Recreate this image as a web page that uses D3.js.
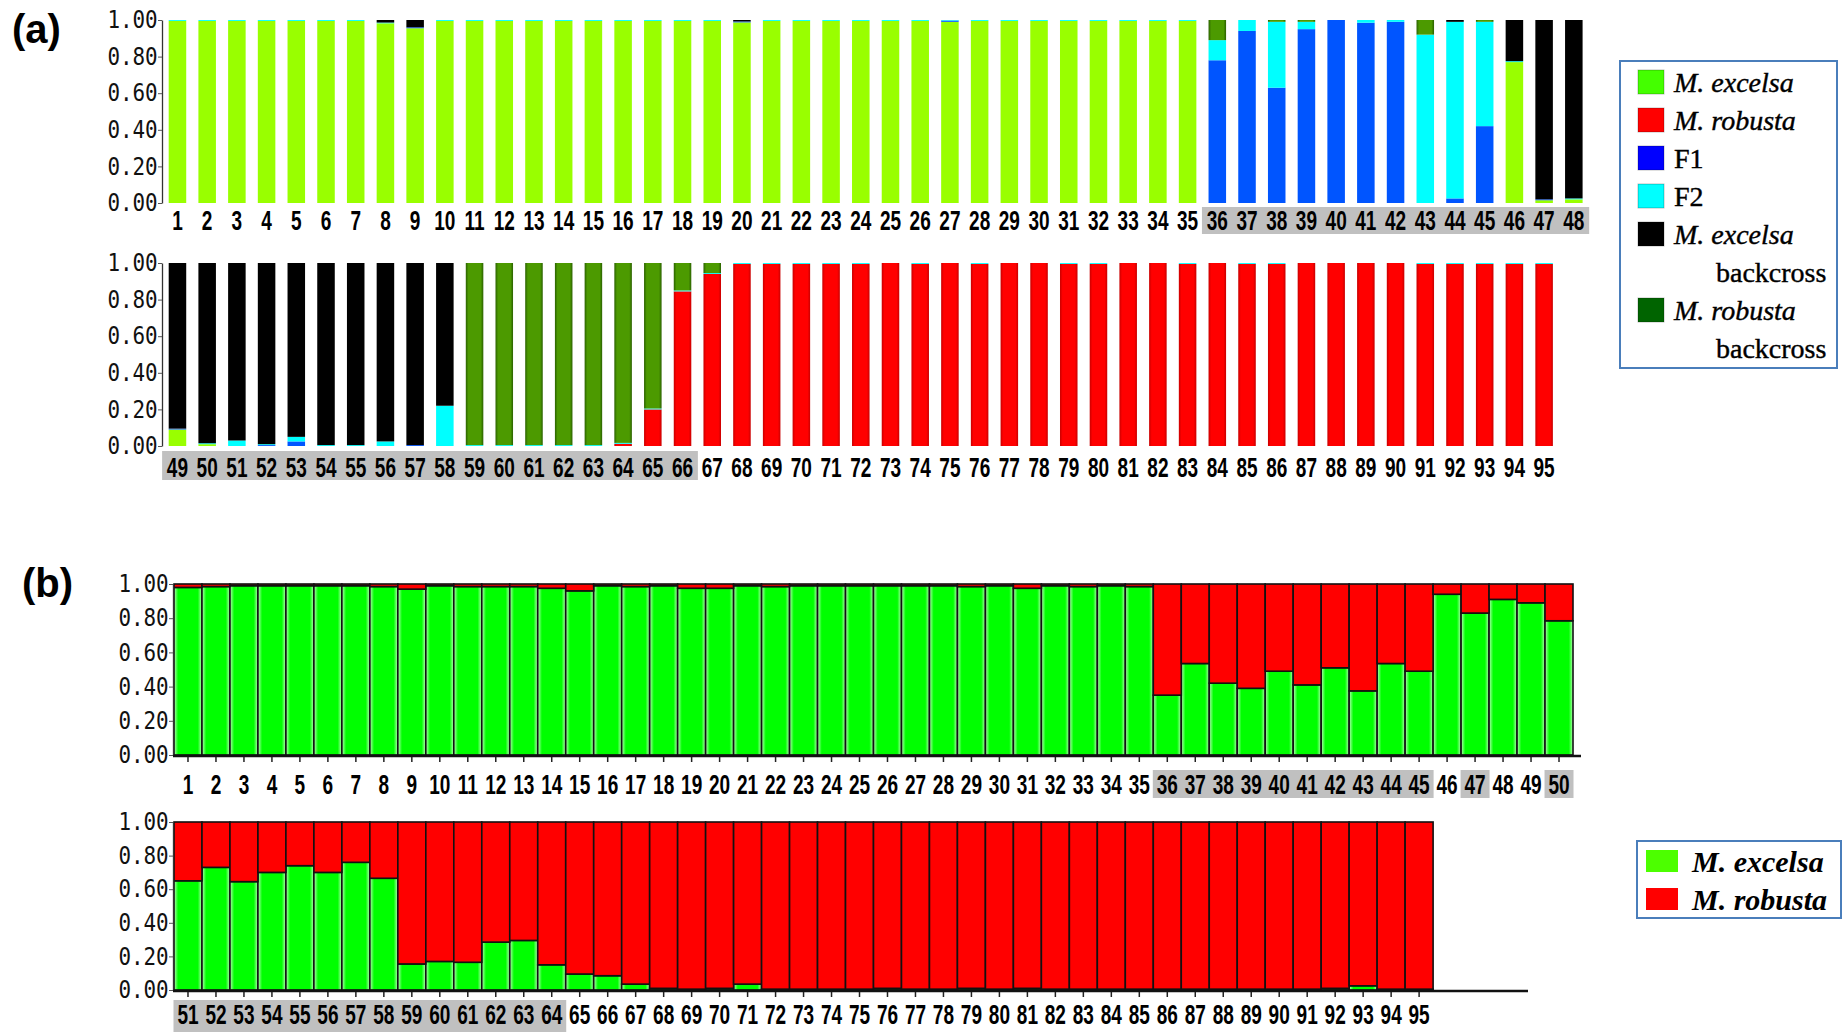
<!DOCTYPE html>
<html>
<head>
<meta charset="utf-8">
<script src="https://cdn.jsdelivr.net/npm/d3@7"></script>
<style>
  body { margin: 0; background: #fff; }
</style>
</head>
<body>
<script>
// individuals 1..95
const individuals = d3.range(1, 96);

// ---- panel (a): 6 classes, proportions per individual ----
const aExcelsa = [
  .995, .995, .995, .995, .995, .995, .995, .982, .955, .995,
  .995, .995, .995, .995, .995, .995, .995, .995, .995, .987,
  .995, .995, .995, .995, .995, .995, .99, .995, .995, .995,
  .995, .995, .995, .995, .995, 0, 0, 0, 0, 0,
  0, 0, 0, 0, 0, .77, .015, .02, .09, .01,
  0, 0, 0, 0, 0, 0, 0, 0, 0, 0,
  0, 0, 0, 0, 0, 0, 0, 0, 0, 0,
  0, 0, 0, 0, 0, 0, 0, 0, 0, 0,
  0, 0, 0, 0, 0, 0, 0, 0, 0, 0,
  0, 0, 0, 0, 0
];
const aRobusta = [
  0, 0, 0, 0, 0, 0, 0, 0, 0, 0,
  0, 0, 0, 0, 0, 0, 0, 0, 0, 0,
  0, 0, 0, 0, 0, 0, 0, 0, 0, 0,
  0, 0, 0, 0, 0, 0, 0, 0, 0, 0,
  0, 0, 0, 0, 0, 0, 0, 0, 0, 0,
  0, 0, 0, 0, 0, 0, 0, 0, 0, 0,
  0, 0, 0, .012, .2, .845, .94, .995, .995, .995,
  .995, .995, 1, .995, 1, .995, 1, 1, .995, .995,
  1, 1, .995, 1, .995, .995, 1, 1, 1, 1,
  .995, .995, .995, .995, .995
];
const aF1 = [
  0, 0, 0, 0, 0, 0, 0, 0, .005, 0,
  0, 0, 0, 0, 0, 0, 0, 0, 0, .005,
  0, 0, 0, 0, 0, 0, .007, 0, 0, 0,
  0, 0, 0, 0, 0, .78, .94, .63, .95, 1,
  .985, .99, 0, .025, .42, 0, .005, 0, .005, 0,
  0, .005, .025, 0, 0, 0, .005, 0, 0, 0,
  0, 0, 0, 0, 0, 0, 0, 0, 0, 0,
  0, 0, 0, 0, 0, 0, 0, 0, 0, 0,
  0, 0, 0, 0, 0, 0, 0, 0, 0, 0,
  0, 0, 0, 0, 0
];
const aF2 = [
  .005, .005, .005, .005, .005, .005, .005, .004, 0, .005,
  .005, .005, .005, .005, .005, .005, .005, .005, .005, 0,
  .005, .005, .005, .005, .005, .005, .003, .005, .005, .005,
  .005, .005, .005, .005, .005, .11, .06, .36, .04, 0,
  .015, .01, .92, .965, .57, .005, 0, .005, 0, .005,
  .03, .005, .025, .005, .005, .025, 0, .22, .005, .005,
  .005, .005, .005, .005, .005, .005, .005, .005, .005, .005,
  .005, .005, 0, .005, 0, .005, 0, 0, .005, .005,
  0, 0, .005, 0, .005, .005, 0, 0, 0, 0,
  .005, .005, .005, .005, .005
];
const aExBackcross = [
  0, 0, 0, 0, 0, 0, 0, .014, .04, 0,
  0, 0, 0, 0, 0, 0, 0, 0, 0, .008,
  0, 0, 0, 0, 0, 0, 0, 0, 0, 0,
  0, 0, 0, 0, 0, 0, 0, 0, 0, 0,
  0, 0, 0, .01, 0, .225, .98, .975, .905, .985,
  .97, .99, .95, .995, .995, .975, .995, .78, 0, 0,
  0, 0, 0, 0, 0, 0, 0, 0, 0, 0,
  0, 0, 0, 0, 0, 0, 0, 0, 0, 0,
  0, 0, 0, 0, 0, 0, 0, 0, 0, 0,
  0, 0, 0, 0, 0
];
const aRobBackcross = [
  0, 0, 0, 0, 0, 0, 0, 0, 0, 0,
  0, 0, 0, 0, 0, 0, 0, 0, 0, 0,
  0, 0, 0, 0, 0, 0, 0, 0, 0, 0,
  0, 0, 0, 0, 0, .11, 0, .01, .01, 0,
  0, 0, .08, 0, .01, 0, 0, 0, 0, 0,
  0, 0, 0, 0, 0, 0, 0, 0, .995, .995,
  .995, .995, .995, .983, .795, .15, .055, 0, 0, 0,
  0, 0, 0, 0, 0, 0, 0, 0, 0, 0,
  0, 0, 0, 0, 0, 0, 0, 0, 0, 0,
  0, 0, 0, 0, 0
];

// ---- panel (b): 2 clusters ----
const bExcelsa = [
  .98, .985, .99, .99, .99, .99, .99, .985, .97, .99,
  .985, .985, .985, .975, .96, .99, .985, .99, .975, .975,
  .99, .985, .99, .99, .99, .99, .99, .99, .985, .99,
  .975, .99, .985, .99, .985, .35, .535, .42, .39, .49,
  .41, .51, .375, .535, .49, .94, .83, .91, .89, .785,
  .65, .73, .645, .70, .74, .70, .76, .665, .155, .17,
  .165, .285, .295, .15, .095, .085, .035, .01, .005, .01,
  .035, .005, .005, .005, .005, .01, .005, .005, .01, .005,
  .01, .005, .005, .005, .005, .005, .005, .005, .005, .005,
  .005, .01, .025, .005, .005
];
const bRobusta = [
  .02, .015, .01, .01, .01, .01, .01, .015, .03, .01,
  .015, .015, .015, .025, .04, .01, .015, .01, .025, .025,
  .01, .015, .01, .01, .01, .01, .01, .01, .015, .01,
  .025, .01, .015, .01, .015, .65, .465, .58, .61, .51,
  .59, .49, .625, .465, .51, .06, .17, .09, .11, .215,
  .35, .27, .355, .30, .26, .30, .24, .335, .845, .83,
  .835, .715, .705, .85, .905, .915, .965, .99, .995, .99,
  .965, .995, .995, .995, .995, .99, .995, .995, .99, .995,
  .99, .995, .995, .995, .995, .995, .995, .995, .995, .995,
  .995, .99, .975, .995, .995
];

// grey-shaded labels
const aShaded = [36, 37, 38, 39, 40, 41, 42, 43, 44, 45, 46, 47, 48,
  49, 50, 51, 52, 53, 54, 55, 56, 57, 58, 59, 60, 61, 62, 63, 64, 65, 66];
const bShaded = [36, 37, 38, 39, 40, 41, 42, 43, 44, 45, 47, 50,
  51, 52, 53, 54, 55, 56, 57, 58, 59, 60, 61, 62, 63, 64];

const yTicks = [0, 0.2, 0.4, 0.6, 0.8, 1];

const aLegend = [
  { key: "exc", name: ["M. excelsa"], swatch: "#44ff00" },
  { key: "rob", name: ["M. robusta"], swatch: "#ff0000" },
  { key: "f1", name: ["F1"], swatch: "#0000ff" },
  { key: "f2", name: ["F2"], swatch: "#00ffff" },
  { key: "exBC", name: ["M. excelsa", "backcross"], swatch: "#000000" },
  { key: "robBC", name: ["M. robusta", "backcross"], swatch: "#006400" }
];
const bLegend = [
  { key: "exc", name: "M. excelsa", swatch: "#4cff00" },
  { key: "rob", name: "M. robusta", swatch: "#ff0000" }
];

// ------------------------------------------------------------------
const width = 1843, height = 1032;
const svg = d3.select("body").append("svg")
  .attr("width", width).attr("height", height)
  .attr("font-family", "Liberation Sans, Arial, sans-serif");

// gradients give the bars their shaded edges
const defs = svg.append("defs");
function edgeGradient(id, edge, mid) {
  const lg = defs.append("linearGradient").attr("id", id)
    .attr("x1", 0).attr("x2", 1).attr("y1", 0).attr("y2", 0);
  [[0, edge], [0.15, mid], [0.85, mid], [1, edge]].forEach(([o, c]) =>
    lg.append("stop").attr("offset", o).attr("stop-color", c));
}
edgeGradient("gRed", "#c80000", "#ff0000");
edgeGradient("gOlive", "#2a6000", "#4c9a00");
edgeGradient("gGreen", "#b8ffb8", "#00ff00");

const aColor = {
  exc: "#99ff00", rob: "url(#gRed)", f1: "#0055ff",
  f2: "#00ffff", exBC: "#000000", robBC: "url(#gOlive)"
};
const bColor = { exc: "url(#gGreen)", rob: "#ff0000" };

const aRows = individuals.map((id, i) => ({
  id, exc: aExcelsa[i], rob: aRobusta[i], f1: aF1[i],
  f2: aF2[i], exBC: aExBackcross[i], robBC: aRobBackcross[i]
}));
const aSeries = d3.stack().keys(["exc", "rob", "f1", "f2", "exBC", "robBC"])(aRows);

const bRows = individuals.map((id, i) => ({ id, exc: bExcelsa[i], rob: bRobusta[i] }));
const bSeries = d3.stack().keys(["exc", "rob"])(bRows);

const panels = [
  { ids: individuals.slice(0, 48), series: aSeries, color: aColor, shaded: aShaded,
    x0: 162.6, step: 29.71, pad: 0.41, top: 20, bottom: 203, axisX: 162, labelY: 230,
    shadeY: 207, shadeH: 27, outline: false },
  { ids: individuals.slice(48), series: aSeries, color: aColor, shaded: aShaded,
    x0: 162.6, step: 29.71, pad: 0.41, top: 263, bottom: 446, axisX: 162, labelY: 477,
    shadeY: 451, shadeH: 29, outline: false },
  { ids: individuals.slice(0, 50), series: bSeries, color: bColor, shaded: bShaded,
    x0: 174, step: 27.98, pad: 0, top: 584, bottom: 755, axisX: 173, labelY: 794,
    shadeY: 770, shadeH: 28, outline: true, baseEnd: 1581 },
  { ids: individuals.slice(50), series: bSeries, color: bColor, shaded: bShaded,
    x0: 174, step: 27.98, pad: 0, top: 822, bottom: 990, axisX: 173, labelY: 1024,
    shadeY: 1000, shadeH: 32, outline: true, baseEnd: 1528 }
];

panels.forEach(p => {
  const g = svg.append("g");
  const x = d3.scaleBand().domain(p.ids)
    .range([p.x0, p.x0 + p.step * p.ids.length])
    .paddingInner(p.pad).paddingOuter(p.pad / 2);
  const y = d3.scaleLinear().domain([0, 1]).range([p.bottom, p.top]);
  const gap = (x.step() - x.bandwidth()) / 2;

  // grey boxes behind some labels
  g.append("g").selectAll("rect")
    .data(p.ids.filter(d => p.shaded.includes(d)))
    .join("rect")
    .attr("x", d => x(d) - gap - 0.5)
    .attr("width", x.step() + 1)
    .attr("y", p.shadeY).attr("height", p.shadeH)
    .attr("fill", "#c0c0c0");

  // stacked bars
  p.series.forEach(s => {
    g.append("g")
      .attr("fill", p.color[s.key])
      .attr("stroke", p.outline ? "#111" : "none")
      .attr("stroke-width", 1.6)
      .selectAll("rect")
      .data(s.filter(d => p.ids.includes(d.data.id) && d[1] - d[0] > 0))
      .join("rect")
      .attr("x", d => x(d.data.id))
      .attr("width", x.bandwidth())
      .attr("y", d => y(d[1]))
      .attr("height", d => y(d[0]) - y(d[1]));
  });

  // y axis
  const ya = g.append("g")
    .attr("transform", `translate(${p.axisX},0)`)
    .call(d3.axisLeft(y).tickValues(yTicks).tickFormat(d3.format(".2f"))
      .tickSize(4).tickSizeOuter(0).tickPadding(1));
  ya.select(".domain").attr("stroke", "#333").attr("stroke-width", 1.3);
  ya.selectAll(".tick line").attr("stroke", "#555");
  ya.selectAll(".tick text")
    .attr("font-family", "DejaVu Sans Mono, monospace")
    .attr("font-size", 24)
    .attr("fill", "#111")
    .attr("transform", "scale(0.87,1)");

  // x baseline + ticks for the (b) plots
  if (p.outline) {
    g.append("line")
      .attr("x1", p.x0 - 1).attr("x2", p.baseEnd)
      .attr("y1", p.bottom + 1).attr("y2", p.bottom + 1)
      .attr("stroke", "#111").attr("stroke-width", 2.5);
    g.append("g").selectAll("line").data(p.ids).join("line")
      .attr("x1", d => x(d) + x.bandwidth() / 2).attr("x2", d => x(d) + x.bandwidth() / 2)
      .attr("y1", p.bottom + 2).attr("y2", p.bottom + 7)
      .attr("stroke", "#222").attr("stroke-width", 1.5);
  }

  // individual labels
  g.append("g").selectAll("text").data(p.ids).join("text")
    .attr("transform", d => `translate(${x(d) + x.bandwidth() / 2},${p.labelY}) scale(0.68,1)`)
    .attr("text-anchor", "middle")
    .attr("font-weight", "bold")
    .attr("font-size", 28)
    .attr("fill", "#000")
    .text(d => d);
});

// panel letters
svg.append("text").attr("x", 12).attr("y", 43)
  .attr("font-size", 40).attr("font-weight", "bold").text("(a)");
svg.append("text").attr("x", 22).attr("y", 597)
  .attr("font-size", 40).attr("font-weight", "bold").text("(b)");

// legend (a)
const legA = svg.append("g").attr("font-family", "Liberation Serif, Times New Roman, serif");
legA.append("rect").attr("x", 1620).attr("y", 61).attr("width", 217).attr("height", 307)
  .attr("fill", "none").attr("stroke", "#4a7ebb").attr("stroke-width", 2);
let rowY = 82;
aLegend.forEach(item => {
  legA.append("rect").attr("x", 1638).attr("y", rowY - 12).attr("width", 26).attr("height", 24)
    .attr("fill", item.swatch).attr("stroke", "rgba(0,0,0,0.25)");
  item.name.forEach((line, i) => {
    legA.append("text")
      .attr("x", i === 0 ? 1674 : 1716)
      .attr("y", rowY + 10 + i * 38)
      .attr("font-size", 28)
      .attr("font-style", line.startsWith("M.") ? "italic" : "normal")
      .attr("stroke", "#000").attr("stroke-width", 0.4)
      .text(line);
  });
  rowY += 38 * item.name.length;
});

// legend (b)
const legB = svg.append("g").attr("font-family", "Liberation Serif, Times New Roman, serif");
legB.append("rect").attr("x", 1637).attr("y", 841).attr("width", 204).attr("height", 77)
  .attr("fill", "none").attr("stroke", "#4a7ebb").attr("stroke-width", 2);
bLegend.forEach((item, i) => {
  const yy = 872 + i * 38;
  legB.append("rect").attr("x", 1646).attr("y", yy - 22).attr("width", 32).attr("height", 22)
    .attr("fill", item.swatch);
  legB.append("text").attr("x", 1692).attr("y", yy)
    .attr("font-size", 30).attr("font-style", "italic").attr("font-weight", "bold")
    .text(item.name);
});
</script>
</body>
</html>
